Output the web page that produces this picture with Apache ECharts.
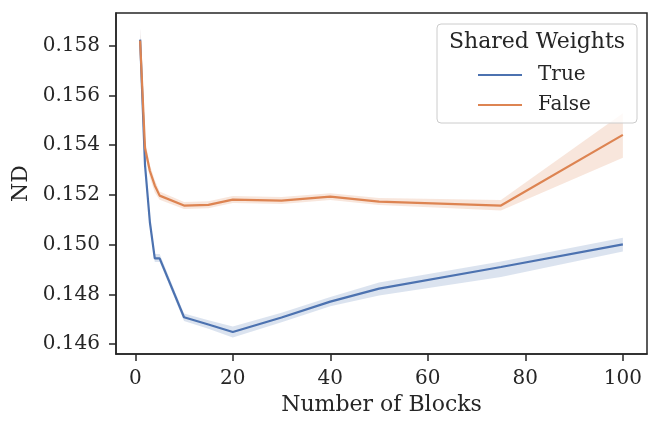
<!DOCTYPE html>
<html><head><meta charset="utf-8">
<script src="https://cdn.jsdelivr.net/npm/echarts@6/dist/echarts.min.js"></script>
<style>html,body{margin:0;padding:0;background:#fff}#c{width:648px;height:421px}</style>
</head><body><div id="c"></div>
<script>
const xTrue = [1, 2, 3, 4, 5, 10, 15, 20, 30, 40, 50, 75, 100];
const yTrue = [0.15824, 0.1532, 0.1509, 0.14945, 0.14945, 0.14708, 0.14679, 0.14649, 0.14707, 0.14771, 0.14823, 0.14910, 0.15001];
const loTrue = [0.1578, 0.1530, 0.1507, 0.1493, 0.1493, 0.14693, 0.14662, 0.14627, 0.14688, 0.14752, 0.14796, 0.14870, 0.14972];
const hiTrue = [0.15870, 0.1534, 0.1511, 0.14962, 0.14962, 0.14723, 0.14696, 0.14671, 0.14726, 0.14790, 0.14848, 0.14932, 0.15028];

const xFalse = [1, 2, 3, 4, 5, 10, 15, 20, 30, 40, 50, 75, 100];
const yFalse = [0.15820, 0.15388, 0.15296, 0.15238, 0.15197, 0.15157, 0.15160, 0.15181, 0.15177, 0.15193, 0.15173, 0.15157, 0.15441];
const loFalse = [0.1578, 0.1536, 0.1527, 0.1521, 0.15180, 0.15143, 0.15146, 0.15167, 0.15163, 0.15179, 0.15159, 0.15137, 0.15349];
const hiFalse = [0.15870, 0.1542, 0.1532, 0.1526, 0.15214, 0.15171, 0.15174, 0.15195, 0.15191, 0.15207, 0.15187, 0.15179, 0.15528];

const xTicks = [0, 20, 40, 60, 80, 100];
const yTicks = [0.146, 0.148, 0.150, 0.152, 0.154, 0.156, 0.158];

const BLUE = '#4C72B0', ORANGE = '#DD8452';
const FONT = 'DejaVu Serif';
const INK = '#262626';

function pairs(xs, ys) { return xs.map((x, i) => [x, ys[i]]); }
function band(xs, lo, hi, color) {
  return {
    type: 'custom', silent: true, z: 1, clip: true,
    data: [0],
    renderItem: function (params, api) {
      const pts = [];
      for (let i = 0; i < xs.length; i++) pts.push(api.coord([xs[i], hi[i]]));
      for (let i = xs.length - 1; i >= 0; i--) pts.push(api.coord([xs[i], lo[i]]));
      return { type: 'polygon', shape: { points: pts }, style: { fill: color, opacity: 0.2 } };
    }
  };
}

const chart = echarts.init(document.getElementById('c'), null, { renderer: 'canvas' });
chart.setOption({
  animation: false,
  backgroundColor: '#fff',
  grid: { left: 116, right: 1, top: 13, bottom: 62, show: true, borderColor: INK, borderWidth: 1.5 },
  xAxis: {
    type: 'value', min: -3.95, max: 104.95,
    name: 'Number of Blocks', nameLocation: 'middle', nameGap: 37,
    nameTextStyle: { fontFamily: FONT, fontSize: 22, color: INK },
    axisLine: { show: true, onZero: false, lineStyle: { color: INK, width: 1.5 } },
    axisTick: { show: true, length: 7, lineStyle: { color: INK, width: 1.5 }, customValues: xTicks },
    axisLabel: { fontFamily: FONT, fontSize: 20, color: INK, margin: 15, customValues: xTicks },
    splitLine: { show: false }
  },
  yAxis: {
    type: 'value', min: 0.1456, max: 0.15931,
    name: 'ND', nameLocation: 'middle', nameGap: 82,
    nameTextStyle: { fontFamily: FONT, fontSize: 22, color: INK },
    axisLine: { show: true, onZero: false, lineStyle: { color: INK, width: 1.5 } },
    axisTick: { show: true, length: 7, lineStyle: { color: INK, width: 1.5 }, customValues: yTicks },
    axisLabel: { fontFamily: FONT, fontSize: 20, color: INK, margin: 16, customValues: yTicks,
      formatter: v => v.toFixed(3) },
    splitLine: { show: false }
  },
  legend: {
    z: 20,
    data: ['True', 'False'], orient: 'vertical', left: 478, top: 60, padding: 0,
    icon: 'rect', itemWidth: 44, itemHeight: 2, itemGap: 0,
    textStyle: { fontFamily: FONT, fontSize: 20, color: INK, lineHeight: 30, padding: [0, 0, 0, 11] }
  },
  graphic: [
    { type: 'rect', x: 437, y: 24, z: 15, shape: { width: 200, height: 99, r: 4 },
      style: { fill: 'rgba(255,255,255,0.8)', stroke: '#cccccc', lineWidth: 1 } },
    { type: 'text', x: 537, y: 31, z: 20,
      style: { text: 'Shared Weights', fontFamily: FONT, fontSize: 22, fill: INK, align: 'center' } }
  ],
  series: [
    band(xTrue, loTrue, hiTrue, BLUE),
    band(xFalse, loFalse, hiFalse, ORANGE),
    { name: 'True', type: 'line', data: pairs(xTrue, yTrue), symbol: 'none',
      lineStyle: { color: BLUE, width: 2.2 }, itemStyle: { color: BLUE }, z: 3 },
    { name: 'False', type: 'line', data: pairs(xFalse, yFalse), symbol: 'none',
      lineStyle: { color: ORANGE, width: 2.2 }, itemStyle: { color: ORANGE }, z: 3 }
  ]
});
</script></body></html>
